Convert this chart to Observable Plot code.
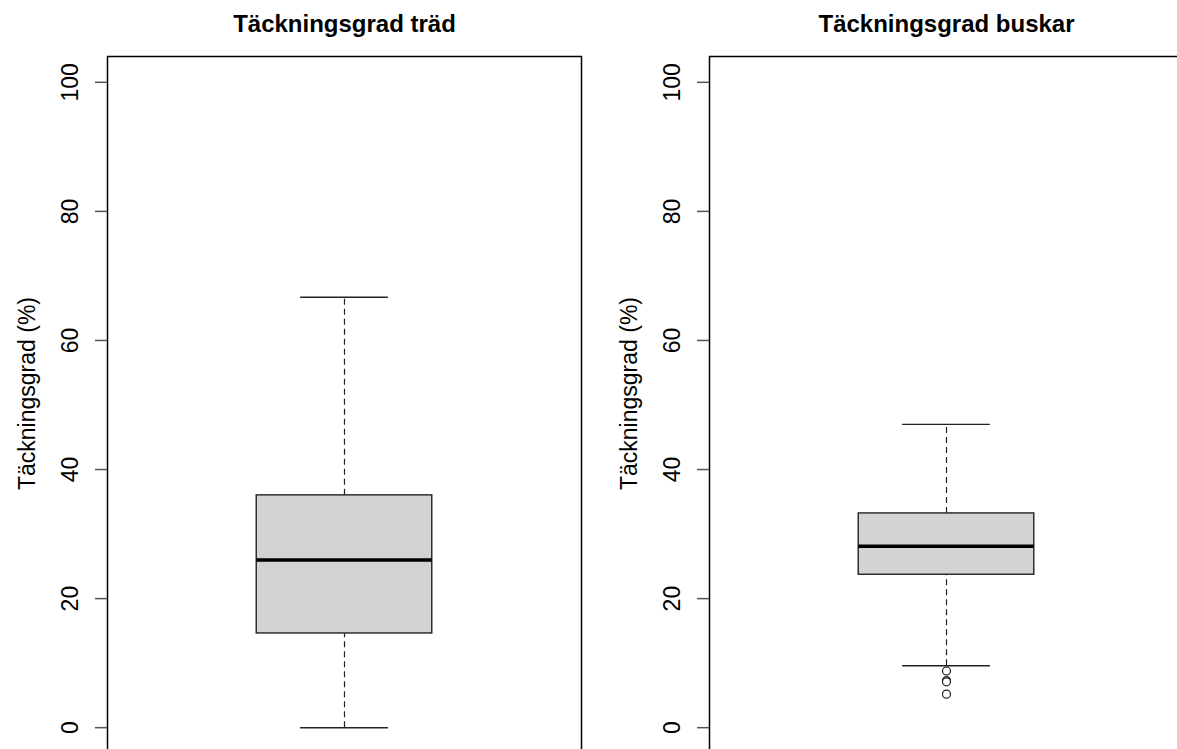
<!DOCTYPE html>
<html>
<head>
<meta charset="utf-8">
<script src="https://cdn.jsdelivr.net/npm/d3@7"></script>
<script src="https://cdn.jsdelivr.net/npm/@observablehq/plot@0.6"></script>
<style>
  html, body { margin: 0; padding: 0; background: #fff; overflow: hidden; width: 1177px; height: 749px; }
  #wrap { position: relative; width: 1177px; height: 749px; overflow: hidden; }
  .panel { position: absolute; top: 0; width: 602px; height: 760px; }
  .panel svg { max-width: none !important; }
</style>
</head>
<body>
<div id="wrap">
  <div class="panel" id="p0" style="left:0px"></div>
  <div class="panel" id="p1" style="left:602px"></div>
</div>
<script>
// ---- data ----
const titles = ["Täckningsgrad träd", "Täckningsgrad buskar"];
const yLabel = "Täckningsgrad (%)";
const yTicks = [0, 20, 40, 60, 80, 100];
const whiskerLow  = [0.0, 9.6];
const q1          = [14.6, 23.7];
const medians     = [26.0, 28.1];
const q3          = [36.0, 33.2];
const whiskerHigh = [66.7, 47.0];
const outliers    = [[], [8.8, 7.3, 7.1, 5.2]];

const font = "'Liberation Sans', Arial, Helvetica, sans-serif";

titles.forEach((title, i) => {
  const stat = [{x: 1, lo: whiskerLow[i], q1: q1[i], med: medians[i], q3: q3[i], hi: whiskerHigh[i]}];
  const outs = outliers[i].map(v => ({x: 1, v}));
  const chart = Plot.plot({
    width: 602,
    height: 760,
    marginLeft: 107,
    marginRight: 21,
    marginTop: 56,
    marginBottom: 7,
    style: {fontFamily: font, fontSize: "23px", background: "transparent", overflow: "visible", maxWidth: "none"},
    x: {domain: [0.46, 1.54], axis: null},
    y: {domain: [-4, 104], axis: null},
    marks: [
      // whiskers (dashed)
      Plot.ruleX(stat, {x: "x", y1: "q3", y2: "hi", stroke: "#222", strokeWidth: 1.2, strokeDasharray: "6,4"}),
      Plot.ruleX(stat, {x: "x", y1: "lo", y2: "q1", stroke: "#222", strokeWidth: 1.2, strokeDasharray: "6,4"}),
      // staples
      Plot.ruleY(stat, {y: "hi", x1: d => d.x - 0.1, x2: d => d.x + 0.1, stroke: "#222", strokeWidth: 1.4}),
      Plot.ruleY(stat, {y: "lo", x1: d => d.x - 0.1, x2: d => d.x + 0.1, stroke: "#222", strokeWidth: 1.4}),
      // box
      Plot.rect(stat, {x1: d => d.x - 0.2, x2: d => d.x + 0.2, y1: "q1", y2: "q3", fill: "#d3d3d3", stroke: "#222", strokeWidth: 1.4}),
      // median
      Plot.ruleY(stat, {y: "med", x1: d => d.x - 0.2, x2: d => d.x + 0.2, stroke: "#000", strokeWidth: 3.5}),
      // outliers
      Plot.dot(outs, {x: "x", y: "v", r: 4, stroke: "#222", fill: "white", strokeWidth: 1.2}),
      // frame
      Plot.frame({stroke: "#000", strokeWidth: 1.5}),
      // y axis
      Plot.axisY(yTicks, {anchor: "left", tickSize: 12, tickPadding: 18, tickRotate: -90, stroke: "#555", strokeWidth: 1.5, fill: "#000", fontSize: 23}),
      // y label
      Plot.text([yLabel], {frameAnchor: "left", dx: -80, dy: -11.5, rotate: -90, textAnchor: "middle", lineAnchor: "middle", fontSize: 23, fill: "#000"}),
      // title
      Plot.text([title], {frameAnchor: "top", dy: -32, lineAnchor: "middle", textAnchor: "middle", fontSize: 24, fontWeight: "bold", fill: "#000"})
    ]
  });
  document.getElementById("p" + i).appendChild(chart);
});
</script>
</body>
</html>
